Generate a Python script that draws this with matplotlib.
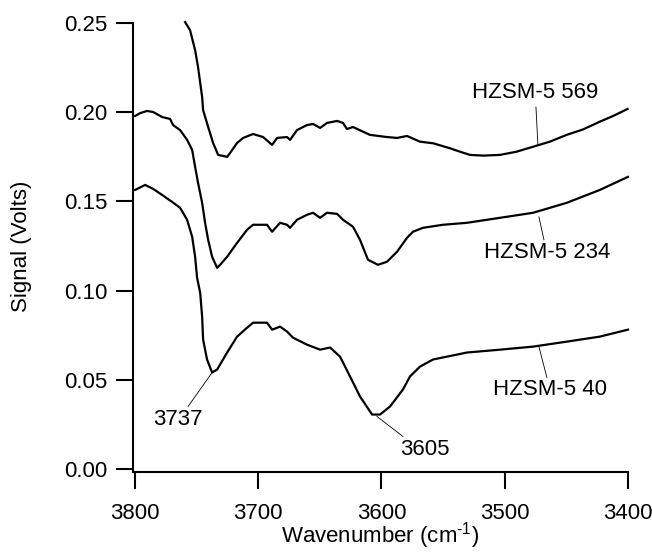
import matplotlib
matplotlib.use("Agg")
import matplotlib.pyplot as plt

# spectra (wavenumber in cm-1, signal in volts)
wn_569 = [3759.4, 3755.4, 3751.3, 3748.9, 3745.6, 3744.8, 3740.7, 3736.7, 3732.6, 3725.3,
          3722.9, 3717.2, 3712.3, 3704.2, 3696.1, 3688.8, 3684.7, 3676.6, 3674.2, 3668.5,
          3660.4, 3655.5, 3649.8, 3644.2, 3636.0, 3631.2, 3628.0, 3623.1, 3609.3, 3595.5,
          3587.3, 3579.2, 3568.7, 3557.9, 3544.3, 3536.2, 3528.1, 3517.3, 3503.7, 3490.2,
          3476.7, 3463.2, 3449.6, 3436.1, 3422.6, 3411.8, 3400.1]
sig_569 = [0.2503, 0.2458, 0.2346, 0.2251, 0.2084, 0.2011, 0.1916, 0.1827, 0.1760, 0.1749,
           0.1771, 0.1827, 0.1855, 0.1877, 0.1860, 0.1816, 0.1855, 0.1860, 0.1844, 0.1899,
           0.1927, 0.1933, 0.1911, 0.1939, 0.1950, 0.1939, 0.1905, 0.1916, 0.1872, 0.1860,
           0.1855, 0.1866, 0.1834, 0.1825, 0.1797, 0.1778, 0.1760, 0.1756, 0.1760, 0.1778,
           0.1806, 0.1834, 0.1872, 0.1903, 0.1946, 0.1978, 0.2017]

wn_234 = [3800.0, 3795.9, 3790.3, 3785.4, 3778.1, 3771.6, 3769.2, 3763.5, 3757.8, 3753.7,
          3751.3, 3748.9, 3745.6, 3743.2, 3740.7, 3737.5, 3733.4, 3731.0, 3725.3, 3717.2,
          3709.1, 3704.2, 3692.9, 3688.8, 3682.3, 3676.6, 3674.2, 3668.5, 3660.4, 3655.5,
          3649.8, 3644.2, 3636.0, 3631.2, 3623.1, 3617.4, 3610.9, 3602.8, 3595.5, 3587.3,
          3579.2, 3574.4, 3566.2, 3550.0, 3530.5, 3503.7, 3476.9, 3449.4, 3422.6, 3399.8]
sig_234 = [0.1978, 0.1994, 0.2006, 0.2000, 0.1972, 0.1961, 0.1927, 0.1899, 0.1844, 0.1788,
           0.1693, 0.1603, 0.1492, 0.1380, 0.1285, 0.1190, 0.1128, 0.1145, 0.1190, 0.1268,
           0.1341, 0.1369, 0.1369, 0.1330, 0.1380, 0.1369, 0.1352, 0.1397, 0.1425, 0.1436,
           0.1408, 0.1436, 0.1430, 0.1397, 0.1358, 0.1285, 0.1173, 0.1145, 0.1162, 0.1218,
           0.1296, 0.1330, 0.1352, 0.1369, 0.1380, 0.1408, 0.1436, 0.1492, 0.1564, 0.1637]

wn_40 = [3800.0, 3791.9, 3785.4, 3778.1, 3770.0, 3763.5, 3757.8, 3753.7, 3751.3, 3749.7,
         3747.2, 3745.6, 3744.8, 3741.6, 3737.5, 3733.4, 3725.3, 3717.2, 3709.1, 3704.2,
         3692.9, 3688.8, 3682.3, 3676.6, 3671.8, 3660.4, 3649.8, 3641.7, 3633.6, 3625.5,
         3617.4, 3607.6, 3601.1, 3593.0, 3582.5, 3576.8, 3568.7, 3558.1, 3530.5, 3503.7,
         3476.9, 3449.4, 3422.6, 3399.8]
sig_40 = [0.1564, 0.1592, 0.1570, 0.1536, 0.1497, 0.1464, 0.1397, 0.1302, 0.1190, 0.1073,
          0.0989, 0.0855, 0.0726, 0.0615, 0.0542, 0.0559, 0.0654, 0.0743, 0.0793, 0.0821,
          0.0821, 0.0782, 0.0799, 0.0771, 0.0737, 0.0698, 0.0670, 0.0682, 0.0631, 0.0520,
          0.0408, 0.0307, 0.0307, 0.0352, 0.0447, 0.0520, 0.0575, 0.0615, 0.0654, 0.0670,
          0.0687, 0.0715, 0.0743, 0.0782]

x_ticks = [3800, 3700, 3600, 3500, 3400]
y_ticks = [0.00, 0.05, 0.10, 0.15, 0.20, 0.25]

# labels: text, text position, line start (on curve), line end
labels = [
    ("HZSM-5 569", (3475.3, 0.2112), (3472.9, 0.1816), (3474.5, 0.2028)),
    ("HZSM-5 234", (3465.6, 0.1212), (3472.1, 0.1413), (3468.0, 0.1285)),
    ("HZSM-5 40", (3463.2, 0.0447), (3472.1, 0.0687), (3465.6, 0.0514)),
    ("3737", (3765.0, 0.0280), (3737.5, 0.0542), (3757.0, 0.0352)),
    ("3605", (3564.6, 0.0112), (3603.6, 0.0296), (3582.5, 0.0184)),
]

plt.rcParams["font.family"] = ["Liberation Sans", "DejaVu Sans"]
plt.rcParams["mathtext.fontset"] = "custom"
plt.rcParams["mathtext.rm"] = "Liberation Sans"
plt.rcParams["mathtext.default"] = "regular"

fig = plt.figure(figsize=(6.52, 5.53), dpi=100)
ax = fig.add_axes([0.2035, 0.147, 0.7592, 0.812])

for wn, sig in [(wn_569, sig_569), (wn_234, sig_234), (wn_40, sig_40)]:
    ax.plot(wn, sig, color="black", lw=1.6, clip_on=False)

for txt, pos, p0, p1 in labels:
    ax.plot([p0[0], p1[0]], [p0[1], p1[1]], color="black", lw=0.6)
    ax.text(pos[0], pos[1], txt, fontsize=16, ha="center", va="center")

ax.set_xlim(3802, 3400)
ax.set_ylim(-0.0013, 0.25)
ax.set_xticks(x_ticks)
ax.set_yticks(y_ticks)
ax.set_yticklabels([f"{v:.2f}" for v in y_ticks])

for s in ["top", "right"]:
    ax.spines[s].set_visible(False)
for s in ["left", "bottom"]:
    ax.spines[s].set_linewidth(1.5)

ax.tick_params(direction="out", length=12, width=1.5, labelsize=16)
ax.tick_params(axis="y", pad=6)
ax.tick_params(axis="x", pad=10.5)

fig.text(22 / 652, 1 - 246 / 553, "Signal (Volts)", rotation=90, fontsize=16,
         ha="center", va="center")
fig.text(380 / 652, 1 - 542.5 / 553, r"Wavenumber (cm$^{\text{-1}}$)", fontsize=16,
         ha="center", va="baseline")

fig.savefig("out.png", dpi=100)
